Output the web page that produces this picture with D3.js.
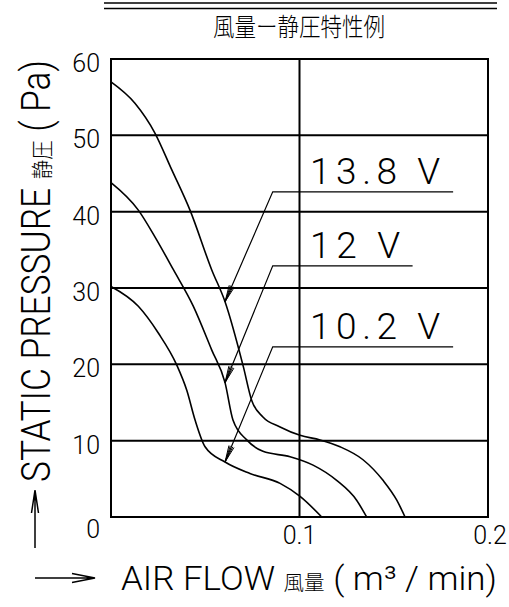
<!DOCTYPE html>
<html>
  <head>
    <meta charset="UTF-8" />
    <style>
      body { margin: 0; background: #fff; }
      text { font-family: "Roboto", "Noto Sans CJK JP", sans-serif; font-weight: 300; fill: #000; }
      .cjk { font-family: "Noto Sans CJK JP", sans-serif; font-weight: 300; }
    </style>
  </head>
  <body>
    <svg></svg>
    <script src="https://d3js.org/d3.v7.min.js"></script>
    <script>
      let width = 509,
        height = 607;

      // curve points: [air flow m3/min, static pressure Pa]
      const curve138 = [
        [0, 57], [0.0127, 54.2], [0.0233, 50.3], [0.0322, 45.5], [0.0419, 40.2],
        [0.0534, 32.4], [0.0605, 28.2], [0.0702, 19.7], [0.0746, 15.3], [0.0806, 13.1],
        [0.0897, 11.8], [0.1003, 10.7], [0.1109, 10.1], [0.1215, 9.2], [0.1337, 7.5],
        [0.1443, 4.8], [0.1516, 2.2], [0.156, 0]
      ];
      const curve12 = [
        [0, 43.8], [0.0145, 40.2], [0.0233, 36.7], [0.0331, 32.4], [0.0437, 27.6],
        [0.0534, 21.9], [0.0605, 17.6], [0.0647, 12.7], [0.072, 10.1], [0.0806, 8.6],
        [0.095, 7.9], [0.1072, 6.8], [0.1197, 4.8], [0.1303, 2.2], [0.1356, 0]
      ];
      const curve102 = [
        [0, 30.2], [0.0145, 27.6], [0.0251, 24.1], [0.0349, 19.9], [0.0402, 16.6],
        [0.0446, 12.7], [0.0499, 9.2], [0.0605, 7.2], [0.0737, 5.7], [0.0897, 4.4],
        [0.1003, 2.7], [0.1118, 0]
      ];

      const voltages = ["13.8 V", "12 V", "10.2 V"];
      // arrow tip on curve, elbow, end of the underline (data units)
      const tips = [[0.0605, 28.2], [0.0605, 17.6], [0.0605, 7.2]];
      const elbowX = 0.0858;
      const elbowY = [42.6, 32.9, 22.3];
      const lineEnd = [0.1815, 0.16, 0.1815];

      const yTicks = [0, 10, 20, 30, 40, 50, 60];
      const xTicks = [0.1, 0.2];

      let svg = d3.select("svg").attr("width", width).attr("height", height);

      let x = d3.scaleLinear().domain([0, 0.2]).range([111, 488]);
      let y = d3.scaleLinear().domain([0, 60]).range([517, 59]);

      // header double rule + title
      svg.append("line").attr("x1", 104).attr("x2", 497).attr("y1", 3).attr("y2", 3)
        .attr("stroke", "black").attr("stroke-width", 1.5);
      svg.append("line").attr("x1", 104).attr("x2", 497).attr("y1", 8.5).attr("y2", 8.5)
        .attr("stroke", "black").attr("stroke-width", 1.5);
      svg.append("text").attr("class", "cjk")
        .attr("x", 213).attr("y", 36)
        .attr("font-size", 25)
        .attr("textLength", 172).attr("lengthAdjust", "spacingAndGlyphs")
        .text("風量ー静圧特性例");

      // grid
      svg.append("g").selectAll("line")
        .data(yTicks.slice(1, -1))
        .join("line")
        .attr("x1", x(0)).attr("x2", x(0.2))
        .attr("y1", (d) => y(d)).attr("y2", (d) => y(d))
        .attr("stroke", "black").attr("stroke-width", 2);
      svg.append("line")
        .attr("x1", x(0.1)).attr("x2", x(0.1))
        .attr("y1", y(0)).attr("y2", y(60))
        .attr("stroke", "black").attr("stroke-width", 2);
      svg.append("rect")
        .attr("x", x(0)).attr("y", y(60))
        .attr("width", x(0.2) - x(0)).attr("height", y(0) - y(60))
        .attr("fill", "none").attr("stroke", "black").attr("stroke-width", 2);

      // tick labels
      svg.append("g").selectAll("text")
        .data(yTicks)
        .join("text")
        .attr("x", 100)
        .attr("y", (d) => y(d) + (d === 0 ? 21 : 13))
        .attr("text-anchor", "end")
        .attr("font-size", 25)
        .text((d) => d);
      svg.append("g").selectAll("text")
        .data(xTicks)
        .join("text")
        .attr("x", (d) => x(d) + (d === 0.2 ? 2 : 0))
        .attr("y", 544)
        .attr("text-anchor", "middle")
        .attr("font-size", 25)
        .text((d) => d3.format(".1f")(d));

      // curves
      let line = d3.line()
        .x((d) => x(d[0]))
        .y((d) => y(d[1]))
        .curve(d3.curveMonotoneX);
      svg.append("g").selectAll("path")
        .data([curve138, curve12, curve102])
        .join("path")
        .attr("d", line)
        .attr("fill", "none")
        .attr("stroke", "black")
        .attr("stroke-width", 1.6);

      // leaders with arrows and voltage labels
      let ann = svg.append("g");
      voltages.forEach((v, i) => {
        let tx = x(tips[i][0]), ty = y(tips[i][1]);
        let ex = x(elbowX), ey = y(elbowY[i]);
        ann.append("path")
          .attr("d", `M${tx},${ty}L${ex},${ey}L${x(lineEnd[i])},${ey}`)
          .attr("fill", "none").attr("stroke", "black").attr("stroke-width", 1.2);
        let ang = Math.atan2(ey - ty, ex - tx);
        [-0.16, -0.08, 0.08, 0.16].forEach((da) => {
          ann.append("line")
            .attr("x1", tx).attr("y1", ty)
            .attr("x2", tx + 17 * Math.cos(ang + da))
            .attr("y2", ty + 17 * Math.sin(ang + da))
            .attr("stroke", "black").attr("stroke-width", 1);
        });
        ann.append("text")
          .attr("x", 310).attr("y", ey - 7.5)
          .attr("font-size", 37)
          .attr("textLength", i === 1 ? 90 : 130)
          .attr("lengthAdjust", "spacing")
          .text(v);
      });

      // axis titles
      let yt = svg.append("text")
        .attr("transform", "translate(50,482) rotate(-90)")
        .attr("font-size", 40)
        .attr("textLength", 422)
        .attr("lengthAdjust", "spacingAndGlyphs");
      yt.append("tspan").text("STATIC PRESSURE ");
      yt.append("tspan").attr("class", "cjk").attr("font-size", 22).text("静圧");
      yt.append("tspan").text(" ( Pa)");

      let xt = svg.append("text")
        .attr("x", 121).attr("y", 590)
        .attr("font-size", 34)
        .attr("textLength", 376)
        .attr("lengthAdjust", "spacingAndGlyphs");
      xt.append("tspan").text("AIR FLOW ");
      xt.append("tspan").attr("class", "cjk").attr("font-size", 20).text("風量");
      xt.append("tspan").text(" ( m³ / min)");

      // direction arrows
      svg.append("path")
        .attr("d", "M35,548V490M31.5,513L35,490L38.5,513")
        .attr("fill", "none").attr("stroke", "black").attr("stroke-width", 1.5);
      svg.append("path")
        .attr("d", "M35,578H95M72,573.5L95,578L72,582.5")
        .attr("fill", "none").attr("stroke", "black").attr("stroke-width", 1.5);
    </script>
  </body>
</html>
